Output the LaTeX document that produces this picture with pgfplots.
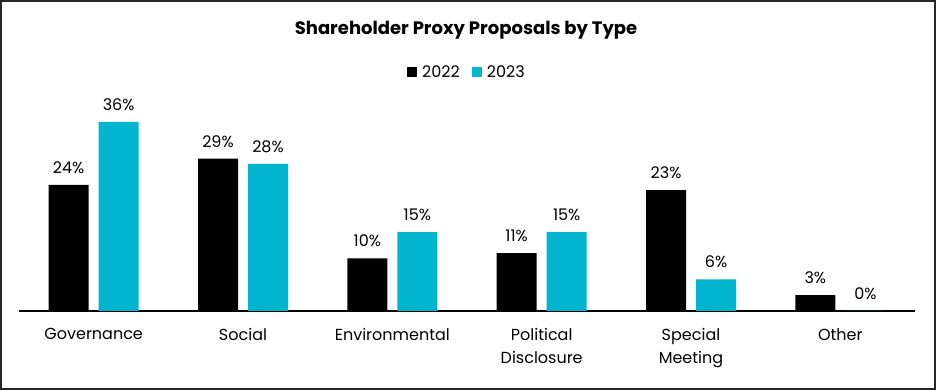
\documentclass[border=0pt]{standalone}
\usepackage{pgfplots}
\pgfplotsset{compat=1.18}
\usepackage{fontspec}
\setmainfont{Poppins}
\definecolor{cy}{HTML}{00B5CD}
\begin{document}
\begin{tikzpicture}[x=1pt,y=1pt]
\useasboundingbox (0,0) rectangle (936,390);
\draw[line width=2pt, draw=black!85] (1,1) rectangle (935,389);
\node[font=\bfseries\fontsize{18}{21}\selectfont] at (466,360) {Shareholder Proxy Proposals by Type};
\begin{axis}[
  at={(19pt,79pt)}, anchor=south west,
  scale only axis, width=896pt, height=210pt,
  xmin=-0.5, xmax=5.5, ymin=0, ymax=40,
  ybar=10pt, bar width=40pt,
  axis y line=none,
  axis x line*=bottom,
  x axis line style={-, line width=1.3pt},
  major tick length=0pt,
  /pgf/number format/assume math mode=true,
  xtick=data,
  xticklabels={Governance, Social, Environmental, {Political\\Disclosure}, {Special\\Meeting}, Other},
  x tick label style={align=center, font=\fontsize{16}{22.5}\selectfont, yshift=-14pt},
  nodes near coords={\pgfmathprintnumber{\pgfplotspointmeta}\%},
  every node near coord/.append style={font=\fontsize{16}{19}\selectfont, yshift=8pt},
  legend style={at={(0.5,1)}, anchor=center, yshift=29pt, draw=none, legend columns=2,
    font=\fontsize{16}{19}\selectfont, /tikz/every even column/.append style={column sep=10pt}},
  legend image code/.code={\fill[#1] (0pt,-5pt) rectangle (10pt,5pt);},
]
\addplot[fill=black, draw=none] coordinates {(0,24) (1,29) (2,10) (3,11) (4,23) (5,3)};
\addplot[fill=cy, draw=none] coordinates {(0,36) (1,28) (2,15) (3,15) (4,6) (5,0)};
\legend{\hspace{3pt}2022,\hspace{3pt}2023}
\end{axis}
\end{tikzpicture}
\end{document}
